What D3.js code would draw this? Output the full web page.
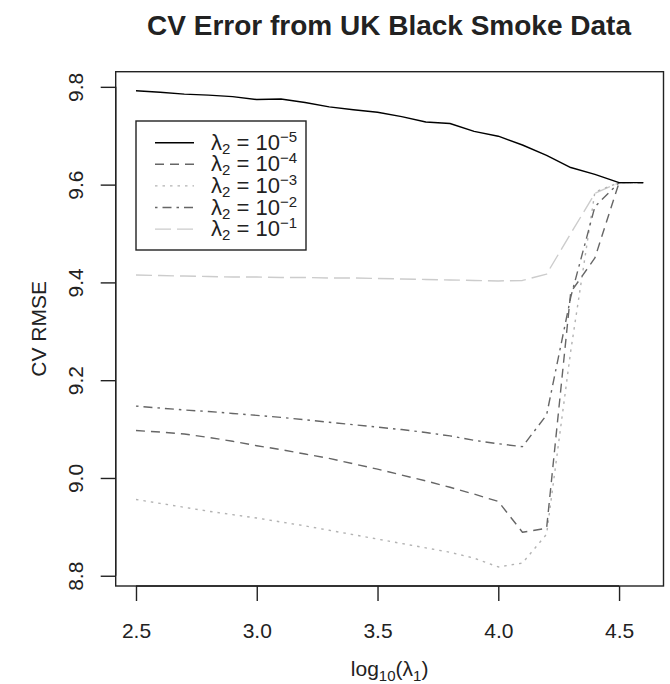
<!DOCTYPE html>
<html>
<head>
<meta charset="utf-8">
<script src="https://cdn.jsdelivr.net/npm/d3@7"></script>
<style>
  html, body { margin: 0; padding: 0; background: #fff; }
  svg { display: block; font-family: "Liberation Sans", Arial, Helvetica, sans-serif; }
</style>
</head>
<body>
<svg id="chart" width="670" height="684"></svg>
<script>
// log10(lambda1) grid
const lambda1 = [2.5, 2.6, 2.7, 2.8, 2.9, 3.0, 3.1, 3.2, 3.3, 3.4, 3.5,
                 3.6, 3.7, 3.8, 3.9, 4.0, 4.1, 4.2, 4.3, 4.4, 4.5, 4.6];

// CV RMSE for each lambda2
const rmseL2e5 = [9.792, 9.789, 9.785, 9.783, 9.780, 9.774, 9.775, 9.768, 9.759, 9.753, 9.748,
                  9.739, 9.728, 9.725, 9.709, 9.699, 9.681, 9.660, 9.635, 9.621, 9.604, 9.604];
const rmseL2e4 = [9.097, 9.094, 9.090, 9.083, 9.075, 9.066, 9.058, 9.049, 9.040, 9.029, 9.018,
                  9.006, 8.994, 8.981, 8.967, 8.952, 8.889, 8.897, 9.380, 9.450, 9.604, 9.604];
const rmseL2e3 = [8.956, 8.948, 8.940, 8.932, 8.925, 8.918, 8.910, 8.902, 8.893, 8.884, 8.875,
                  8.866, 8.857, 8.848, 8.836, 8.818, 8.826, 8.885, 9.260, 9.585, 9.604, 9.604];
const rmseL2e2 = [9.147, 9.143, 9.139, 9.136, 9.132, 9.128, 9.124, 9.119, 9.114, 9.109, 9.104,
                  9.099, 9.093, 9.086, 9.077, 9.070, 9.064, 9.129, 9.370, 9.555, 9.604, 9.604];
const rmseL2e1 = [9.415, 9.414, 9.413, 9.412, 9.411, 9.411, 9.410, 9.410, 9.409, 9.409, 9.408,
                  9.407, 9.406, 9.405, 9.404, 9.403, 9.404, 9.417, 9.500, 9.582, 9.604, 9.604];

const seriesExponents = ["5", "4", "3", "2", "1"];
const xTicks = [2.5, 3.0, 3.5, 4.0, 4.5];
const yTicks = [8.8, 9.0, 9.2, 9.4, 9.6, 9.8];

const titleText = "CV Error from UK Black Smoke Data";
const yLabelText = "CV RMSE";

const series = [
  { values: rmseL2e5, exp: seriesExponents[0], color: "#000000", dash: null },
  { values: rmseL2e4, exp: seriesExponents[1], color: "#666666", dash: "9,6" },
  { values: rmseL2e3, exp: seriesExponents[2], color: "#b3b3b3", dash: "2.5,5" },
  { values: rmseL2e2, exp: seriesExponents[3], color: "#666666", dash: "2.5,5,9,5" },
  { values: rmseL2e1, exp: seriesExponents[4], color: "#cccccc", dash: "16,6" }
];

const svg = d3.select("#chart");

// plot region (box) in pixels
const box = { left: 115.7, right: 663.5, top: 71.7, bottom: 586 };

// R-style 4% padding around the data range
const xExt = d3.extent(lambda1);
const xPad = (xExt[1] - xExt[0]) * 0.04;
const allY = [].concat(rmseL2e5, rmseL2e4, rmseL2e3, rmseL2e2, rmseL2e1);
const yExt = d3.extent(allY);
const yPad = (yExt[1] - yExt[0]) * 0.04;

const x = d3.scaleLinear().domain([xExt[0] - xPad, xExt[1] + xPad]).range([box.left, box.right]);
const y = d3.scaleLinear().domain([yExt[0] - yPad, yExt[1] + yPad]).range([box.bottom, box.top]);

// title
svg.append("text")
  .attr("x", 389)
  .attr("y", 35)
  .attr("text-anchor", "middle")
  .attr("font-weight", "bold")
  .attr("font-size", 28)
  .attr("fill", "#222")
  .text(titleText);

// series lines
const line = d3.line().x((d, i) => x(lambda1[i])).y(d => y(d));
const plotG = svg.append("g");
// lightest first so darker lines sit on top
[4, 2, 3, 1, 0].forEach(k => {
  const s = series[k];
  plotG.append("path")
    .datum(s.values)
    .attr("d", line)
    .attr("fill", "none")
    .attr("stroke", s.color)
    .attr("stroke-width", 1.4)
    .attr("stroke-dasharray", s.dash)
    .attr("stroke-linejoin", "round");
});

// box
svg.append("rect")
  .attr("x", box.left).attr("y", box.top)
  .attr("width", box.right - box.left).attr("height", box.bottom - box.top)
  .attr("fill", "none").attr("stroke", "#222").attr("stroke-width", 1.4);

// x axis
const xAxis = d3.axisBottom(x).tickValues(xTicks).tickFormat(d3.format(".1f")).tickSize(15).tickSizeOuter(0);
const gx = svg.append("g").attr("transform", `translate(0,${box.bottom})`).call(xAxis);
gx.select(".domain").attr("d", `M${x(xTicks[0])},0H${x(xTicks[xTicks.length - 1])}`)
  .attr("stroke", "#222").attr("stroke-width", 1.4);
gx.selectAll(".tick line").attr("stroke", "#222").attr("stroke-width", 1.4);
gx.selectAll(".tick text")
  .attr("font-size", 21).attr("fill", "#222")
  .attr("font-family", "Liberation Sans, Arial, sans-serif")
  .attr("dy", null).attr("y", 52);

// y axis
const yAxis = d3.axisLeft(y).tickValues(yTicks).tickFormat(d3.format(".1f")).tickSize(15).tickSizeOuter(0);
const gy = svg.append("g").attr("transform", `translate(${box.left},0)`).call(yAxis);
gy.select(".domain").attr("d", `M0,${y(yTicks[0])}V${y(yTicks[yTicks.length - 1])}`)
  .attr("stroke", "#222").attr("stroke-width", 1.4);
gy.selectAll(".tick line").attr("stroke", "#222").attr("stroke-width", 1.4);
gy.selectAll(".tick text")
  .attr("font-size", 21).attr("fill", "#222")
  .attr("font-family", "Liberation Sans, Arial, sans-serif")
  .attr("text-anchor", "middle")
  .attr("x", null).attr("dy", null)
  .attr("transform", "translate(-33,0) rotate(-90)")
  .attr("y", 0);

// axis titles
const xl = svg.append("text")
  .attr("x", (box.left + box.right) / 2)
  .attr("y", 676)
  .attr("text-anchor", "middle")
  .attr("font-size", 21)
  .attr("fill", "#222");
xl.append("tspan").text("log");
xl.append("tspan").attr("font-size", 15).attr("dy", 5).text("10");
xl.append("tspan").attr("dy", -5).text("(λ");
xl.append("tspan").attr("font-size", 15).attr("dy", 5).text("1");
xl.append("tspan").attr("dy", -5).text(")");

svg.append("text")
  .attr("transform", `translate(46,${(box.top + box.bottom) / 2}) rotate(-90)`)
  .attr("text-anchor", "middle")
  .attr("font-size", 21)
  .attr("fill", "#222")
  .text(yLabelText);

// legend
const leg = { left: 136, top: 121, right: 306, bottom: 250 };
svg.append("rect")
  .attr("x", leg.left).attr("y", leg.top)
  .attr("width", leg.right - leg.left).attr("height", leg.bottom - leg.top)
  .attr("fill", "#fff").attr("stroke", "#222").attr("stroke-width", 1.4);

const rowH = 21.6;
series.forEach((s, i) => {
  const cy = 142.7 + i * rowH;
  svg.append("line")
    .attr("x1", 155).attr("x2", 194).attr("y1", cy).attr("y2", cy)
    .attr("stroke", s.color).attr("stroke-width", 1.4)
    .attr("stroke-dasharray", s.dash);
  const t = svg.append("text")
    .attr("x", 211).attr("y", cy + 7)
    .attr("font-size", 22).attr("fill", "#222");
  t.append("tspan").text("λ");
  t.append("tspan").attr("font-size", 15).attr("dy", 4).text("2");
  t.append("tspan").attr("dy", -4).text(" = 10");
  t.append("tspan").attr("font-size", 15).attr("dy", -8).text("−" + s.exp);
});
</script>
</body>
</html>
